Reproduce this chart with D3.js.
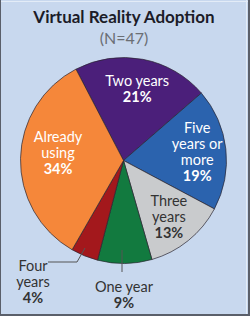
<!DOCTYPE html>
<html><head><meta charset="utf-8">
<script src="https://cdn.jsdelivr.net/npm/d3@7"></script>
<style>html,body{margin:0;padding:0;background:#c8d8ee;}svg{display:block;}</style>
</head><body>
<script>
const categories = ["Two years", "Five years or more", "Three years", "One year", "Four years", "Already using"];
const counts = [10, 9, 6, 4, 2, 16];
const percentLabels = ["21%", "19%", "13%", "9%", "4%", "34%"];
const labelLines = [["Two years"], ["Five", "years or", "more"], ["Three", "years"], ["One year"], ["Four", "years"], ["Already", "using"]];
const colors = ["#4b1f7a", "#2b63ae", "#c9cbcd", "#127a3f", "#a3181c", "#f5873a"];
const textColors = ["#fff", "#fff", "#333", "#333", "#333", "#fff"];
const title = "Virtual Reality Adoption";
const subtitle = "(N=47)";

const W = 250, H = 316;
const svg = d3.select("body").append("svg").attr("width", W).attr("height", H);
svg.append("rect").attr("width", W).attr("height", H).attr("fill", "#c8d8ee");
// frame
svg.append("line").attr("x1",0).attr("x2",W).attr("y1",1.5).attr("y2",1.5).attr("stroke","#e3ecf7").attr("stroke-width",1);
svg.append("line").attr("x1",246.5).attr("x2",246.5).attr("y1",0).attr("y2",H).attr("stroke","#e3ecf7").attr("stroke-width",1);
svg.append("line").attr("x1",0.5).attr("x2",0.5).attr("y1",0).attr("y2",H).attr("stroke","#5a5f6a").attr("stroke-width",1);
svg.append("line").attr("x1",249).attr("x2",249).attr("y1",0).attr("y2",H).attr("stroke","#5a5f6a").attr("stroke-width",2);
svg.append("line").attr("x1",0).attr("x2",W).attr("y1",315).attr("y2",315).attr("stroke","#5a5f6a").attr("stroke-width",2);

const font = "Lato, 'Open Sans', sans-serif";
svg.append("text").attr("x",124).attr("y",23).attr("text-anchor","middle")
  .attr("font-family",font).attr("font-weight",700).attr("font-size",17).attr("fill","#1c1c28").text(title);
svg.append("text").attr("x",124).attr("y",44).attr("text-anchor","middle")
  .attr("font-family",font).attr("font-size",16).attr("fill","#6b6e74").text(subtitle);

const cx = 123.5, cy = 160.5, R = 103;
const deg = Math.PI/180;
const pie = d3.pie().sort(null).value(d => d).startAngle(-27.5*deg).endAngle(332.5*deg);
const arcs = pie(counts);
const arc = d3.arc().innerRadius(0).outerRadius(R);
const g = svg.append("g").attr("transform", `translate(${cx},${cy})`);
g.selectAll("path").data(arcs).join("path")
  .attr("d", arc).attr("fill", (d,i) => colors[i])
  .attr("stroke", "#2a2530").attr("stroke-width", 0.7);

const lh = 16;
function block(x, yc, i, anchor) {
  const lines = labelLines[i].concat([percentLabels[i]]);
  const n = lines.length;
  const first = yc - (n-1)*lh/2 + 5;
  const t = g.append("text").attr("font-family", font).attr("font-size", 14.5)
    .attr("fill", textColors[i]).attr("text-anchor", anchor || "middle");
  lines.forEach((s, j) => {
    t.append("tspan").attr("x", x).attr("y", first + j*lh)
      .attr("font-weight", j === n-1 ? 700 : 400).text(s);
  });
}
// inside labels
const inner = [0, 1, 2];
const kIn = [0.71, 0.72, 0.70];
inner.forEach((i, j) => {
  const la = d3.arc().innerRadius(R*kIn[j]).outerRadius(R*kIn[j]);
  const [x, y] = la.centroid(arcs[i]);
  block(x, y, i);
});
block(58 - cx, 152.5 - cy, 5);
// outside labels
block(124 - cx, 295 - cy, 3);
block(33 - cx, 282 - cy, 4);
// leaders
g.append("path").attr("d", `M${122-cx},${250-cy}V${272-cy}`).attr("stroke","#555").attr("stroke-width",1).attr("fill","none");
g.append("path").attr("d", `M${48-cx},${262-cy}H${77-cx}L${85-cx},${248-cy}`).attr("stroke","#555").attr("stroke-width",1).attr("fill","none");
</script>
</body></html>
